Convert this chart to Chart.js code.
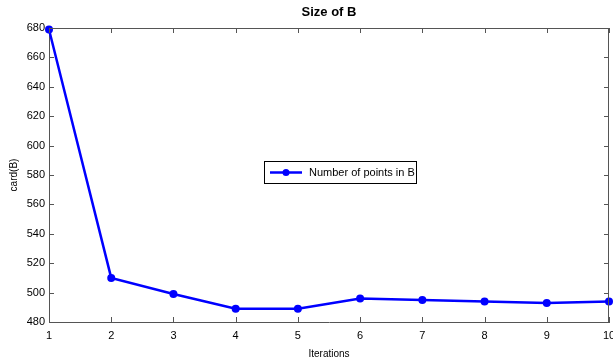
<!DOCTYPE html>
<html>
<head>
<meta charset="utf-8">
<script src="https://cdn.jsdelivr.net/npm/chart.js@4"></script>
<style>
  html, body { margin: 0; padding: 0; background: #fff; }
  #wrap { width: 613px; height: 360px; }
</style>
</head>
<body>
<div id="wrap"><canvas id="sizeChart"></canvas></div>
<script>
// Verileri
const iterations = [1, 2, 3, 4, 5, 6, 7, 8, 9, 10];
const cardB = [679, 510, 499, 489, 489, 496, 495, 494, 493, 494];
const yTicks = [480, 500, 520, 540, 560, 580, 600, 620, 640, 660, 680];
const seriesLabel = "Number of points in B";

const axisColor = "#555";
const fontFamily = "'Liberation Sans', Arial, sans-serif";

// MATLAB tarzı kutu, iç tikler, başlık ve ortadaki legend
const matlabFrame = {
    id: "matlabFrame",
    afterDraw(chart) {
        const { ctx, chartArea: a, scales } = chart;
        ctx.save();
        ctx.strokeStyle = axisColor;
        ctx.lineWidth = 1;
        ctx.beginPath();
        ctx.moveTo(a.left, a.top + 0.5);
        ctx.lineTo(a.right, a.top + 0.5);
        ctx.moveTo(a.right - 0.5, a.top);
        ctx.lineTo(a.right - 0.5, a.bottom);
        // iç tikler
        iterations.forEach(v => {
            const x = Math.round(scales.x.getPixelForValue(v)) + 0.5;
            ctx.moveTo(x, a.bottom); ctx.lineTo(x, a.bottom - 5);
            ctx.moveTo(x, a.top); ctx.lineTo(x, a.top + 5);
        });
        yTicks.forEach(v => {
            const y = Math.round(scales.y.getPixelForValue(v)) + 0.5;
            ctx.moveTo(a.left, y); ctx.lineTo(a.left + 5, y);
            ctx.moveTo(a.right, y); ctx.lineTo(a.right - 5, y);
        });
        ctx.stroke();

        // başlık
        ctx.fillStyle = "#000";
        ctx.font = "bold 13px " + fontFamily;
        ctx.textAlign = "center";
        ctx.textBaseline = "middle";
        ctx.fillText("Size of B", (a.left + a.right) / 2, 12);

        // legend kutusu
        const lx = 264, ly = 161, lw = 152, lh = 22;
        ctx.fillStyle = "#fff";
        ctx.fillRect(lx, ly, lw, lh);
        ctx.strokeStyle = "#000";
        ctx.strokeRect(lx + 0.5, ly + 0.5, lw, lh);
        const cy = ly + lh / 2 + 0.5;
        ctx.strokeStyle = "#0000ff";
        ctx.lineWidth = 2.5;
        ctx.beginPath();
        ctx.moveTo(lx + 6, cy);
        ctx.lineTo(lx + 38, cy);
        ctx.stroke();
        ctx.fillStyle = "#0000ff";
        ctx.beginPath();
        ctx.arc(lx + 22, cy, 3.5, 0, Math.PI * 2);
        ctx.fill();
        ctx.fillStyle = "#000";
        ctx.font = "11px " + fontFamily;
        ctx.textAlign = "left";
        ctx.fillText(seriesLabel, lx + 45, cy);
        ctx.restore();
    }
};

new Chart(document.getElementById("sizeChart"), {
    type: "line",
    data: {
        datasets: [{
            label: seriesLabel,
            data: iterations.map((it, i) => ({ x: it, y: cardB[i] })),
            borderColor: "#0000ff",
            backgroundColor: "#0000ff",
            borderWidth: 2.5,
            pointRadius: 4,
            pointBorderWidth: 0,
            pointHoverRadius: 4,
            fill: false,
            tension: 0,
            clip: 8,
        }]
    },
    options: {
        responsive: true,
        maintainAspectRatio: false,
        animation: false,
        layout: { padding: { top: 28, right: 1, left: 0, bottom: 0 } },
        plugins: {
            legend: { display: false },
            tooltip: { enabled: false },
            title: { display: false },
        },
        scales: {
            x: {
                type: "linear",
                min: 1,
                max: 10,
                afterFit: s => { s.height = 38; s.paddingLeft = 0; s.paddingRight = 0; },
                afterBuildTicks: s => { s.ticks = iterations.map(v => ({ value: v })); },
                ticks: { color: "#000", padding: 7, font: { family: fontFamily, size: 11 } },
                grid: { drawOnChartArea: false, drawTicks: false },
                border: { color: axisColor, width: 1 },
                title: { display: true, text: "Iterations", color: "#000", padding: 0, font: { family: fontFamily, size: 10 } },
            },
            y: {
                min: 480,
                max: 680,
                afterFit: s => { s.width = 49; s.paddingTop = 0; s.paddingBottom = 0; },
                afterBuildTicks: s => { s.ticks = yTicks.map(v => ({ value: v })); },
                ticks: { color: "#000", padding: 4, font: { family: fontFamily, size: 11 } },
                grid: { drawOnChartArea: false, drawTicks: false },
                border: { color: axisColor, width: 1 },
                title: { display: true, text: "card(B)", color: "#000", padding: { top: 8, bottom: 0 }, font: { family: fontFamily, size: 10 } },
            },
        },
    },
    plugins: [matlabFrame],
});
</script>
</body>
</html>
